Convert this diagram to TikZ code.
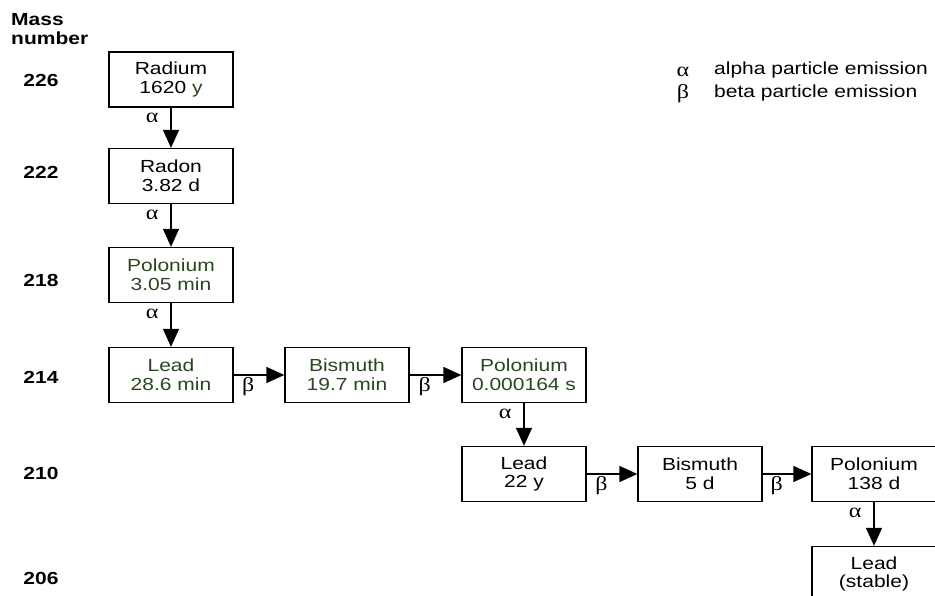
\documentclass[tikz,border=0pt]{standalone}
\usepackage{fontspec}
\setmainfont{Liberation Sans}[FakeStretch=1.2]
\newfontfamily\grk{Liberation Serif}[FakeStretch=1.2]
\usetikzlibrary{arrows.meta}
\definecolor{nucgreen}{RGB}{38,72,28}
\begin{document}
\begin{tikzpicture}[x=1pt,y=1pt,
  nuc/.style={draw,line width=1.3pt,minimum width=124pt,minimum height=55pt,
    align=center,inner sep=2pt,font=\fontsize{17.5}{18.5}\selectfont},
  mass/.style={font=\fontsize{17.5}{19.5}\selectfont\bfseries,inner sep=0pt},
  decay/.style={line width=1.3pt,-{Triangle[length=18pt,width=16pt]}},
  emit/.style={font=\grk\fontsize{20}{20}\selectfont,inner sep=1pt}]
  \useasboundingbox (0,0) rectangle (935,596);
  % mass numbers
  \node[mass,anchor=north west,align=left] (title) at (11,583) {Mass\\number};
  \foreach \m/\y in {226/516,222/424,218/316,214/219,210/123,206/18}
    \node[mass] (m\m) at (41,\y) {\m};
  % nuclides
  \node[nuc] (ra)  at (171,516.5) {Radium\\1620 {\color{nucgreen}y}};
  \node[nuc] (rn)  at (171,420)   {Radon\\3.82 d};
  \node[nuc,text=nucgreen] (po1) at (171,321) {Polonium\\3.05 min};
  \node[nuc,text=nucgreen] (pb1) at (171,221) {Lead\\28.6 min};
  \node[nuc,text=nucgreen] (bi1) at (347,221) {Bismuth\\19.7 min};
  \node[nuc,text=nucgreen] (po2) at (524,221) {Polonium\\0.000164 s};
  \node[nuc] (pb2) at (524,122) {Lead\\22 y};
  \node[nuc] (bi2) at (700,122) {Bismuth\\5 d};
  \node[nuc] (po3) at (874,122) {Polonium\\138 d};
  \node[nuc] (pb3) at (874,22) {Lead\\(stable)};
  % decays
  \draw[decay] (ra) -- (rn) node[pos=.25,left=11pt,emit]{α};
  \draw[decay] (rn) -- (po1) node[pos=.25,left=11pt,emit]{α};
  \draw[decay] (po1) -- (pb1) node[pos=.25,left=11pt,emit]{α};
  \draw[decay] (pb1) -- (bi1) node[pos=.29,below=1pt,emit]{β};
  \draw[decay] (bi1) -- (po2) node[pos=.29,below=1pt,emit]{β};
  \draw[decay] (po2) -- (pb2) node[pos=.25,left=11pt,emit]{α};
  \draw[decay] (pb2) -- (bi2) node[pos=.29,below=1pt,emit]{β};
  \draw[decay] (bi2) -- (po3) node[pos=.29,below=1pt,emit]{β};
  \draw[decay] (po3) -- (pb3) node[pos=.25,left=11pt,emit]{α};
  % legend
  \node[emit] (ka) at (683,524) {α};
  \node[emit] (kb) at (683,502) {β};
  \node[anchor=west,inner sep=0pt,font=\fontsize{17.5}{18.5}\selectfont] (la) at (714,526) {alpha particle emission};
  \node[anchor=west,inner sep=0pt,font=\fontsize{17.5}{18.5}\selectfont] (lb) at (714,503) {beta particle emission};
\end{tikzpicture}
\end{document}
